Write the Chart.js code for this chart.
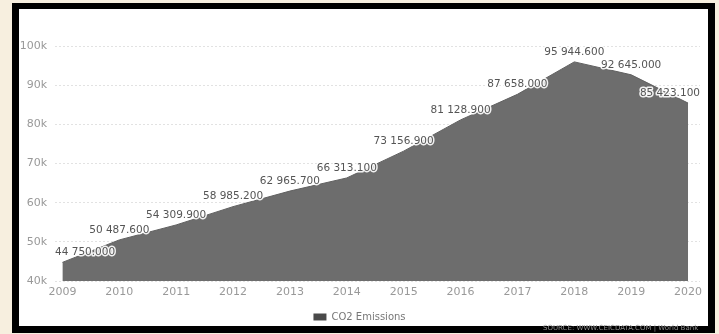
<!DOCTYPE html>
<html>
<head>
<meta charset="utf-8">
<script src="https://cdn.jsdelivr.net/npm/chart.js@4.4.1/dist/chart.umd.min.js"></script>
<style>
  body { margin: 0; width: 719px; height: 334px; overflow: hidden; position: relative; background: #f7efdf; }
  .frame { position: absolute; left: 12px; top: 3px; width: 689px; height: 317px; border: 7px solid #000; border-top-width: 6px; background: #fff; }
  .frame canvas { display: block; }
  .source { position: absolute; left: 543px; top: 324px; font: 7px "DejaVu Sans", sans-serif; color: #8c8c8c; white-space: nowrap; }
</style>
</head>
<body>
<div class="frame"><canvas id="co2"></canvas></div>
<div class="source">SOURCE: WWW.CEICDATA.COM | World Bank</div>
<script>
const years = [2009, 2010, 2011, 2012, 2013, 2014, 2015, 2016, 2017, 2018, 2019, 2020];
const co2 = [44750.0, 50487.6, 54309.9, 58985.2, 62965.7, 66313.1, 73156.9, 81128.9, 87658.0, 95944.6, 92645.0, 85423.1];
const yTickLabels = ['40k', '50k', '60k', '70k', '80k', '90k', '100k'];

// "95 944.600" style: space for thousands, three decimals
function fmt(v) {
  const [int, dec] = v.toFixed(3).split('.');
  return int.replace(/\B(?=(\d{3})+(?!\d))/g, ' ') + '.' + dec;
}

const valueLabels = {
  id: 'valueLabels',
  afterDatasetsDraw(chart) {
    const { ctx, chartArea } = chart;
    const meta = chart.getDatasetMeta(0);
    ctx.save();
    ctx.font = '10.5px "DejaVu Sans", sans-serif';
    ctx.textAlign = 'center';
    ctx.textBaseline = 'middle';
    ctx.lineJoin = 'round';
    meta.data.forEach((pt, i) => {
      const text = fmt(co2[i]);
      const w = ctx.measureText(text).width;
      const x = Math.min(Math.max(pt.x, chartArea.left + w / 2), chartArea.right - w / 2);
      const y = pt.y - 10;
      ctx.strokeStyle = 'rgba(255,255,255,0.9)';
      ctx.lineWidth = 3;
      ctx.strokeText(text, x, y);
      ctx.fillStyle = '#555';
      ctx.fillText(text, x, y);
    });
    ctx.restore();
  }
};

new Chart(document.getElementById('co2'), {
  type: 'line',
  data: {
    datasets: [{
      label: 'CO2 Emissions',
      data: years.map((y, i) => ({ x: y, y: co2[i] })),
      backgroundColor: '#6d6d6d',
      borderColor: '#606060',
      borderWidth: 1,
      pointRadius: 0,
      tension: 0,
      fill: 'start'
    }]
  },
  options: {
    responsive: true,
    maintainAspectRatio: false,
    animation: false,
    layout: { padding: { left: 0, right: 8, top: 37, bottom: -6 } },
    scales: {
      x: {
        type: 'linear',
        min: 2008.87,
        max: 2020.21,
        grid: { display: false },
        border: { display: false },
        afterFit(s) { s.height = 31; },
        ticks: {
          stepSize: 1,
          includeBounds: false,
          padding: -3,
          color: '#999',
          font: { family: 'DejaVu Sans', size: 11 },
          callback: v => String(v)
        }
      },
      y: {
        min: 40000,
        max: 100000,
        grid: { color: '#e2e2e2', drawTicks: false },
        border: { display: false, dash: [2, 2] },
        afterFit(s) { s.width = 36; },
        ticks: {
          stepSize: 10000,
          padding: 8,
          color: '#999',
          font: { family: 'DejaVu Sans', size: 11 },
          callback: (v, i) => yTickLabels[i]
        }
      }
    },
    plugins: {
      tooltip: { enabled: false },
      legend: {
        position: 'bottom',
        labels: {
          boxWidth: 13,
          boxHeight: 7,
          padding: 0,
          color: '#777',
          font: { family: 'DejaVu Sans', size: 10 },
          generateLabels(chart) {
            return Chart.defaults.plugins.legend.labels.generateLabels(chart).map(l => {
              l.fillStyle = '#4a4a4a';
              l.strokeStyle = '#4a4a4a';
              l.lineWidth = 0;
              return l;
            });
          }
        }
      }
    }
  },
  plugins: [valueLabels]
});
</script>
</body>
</html>
